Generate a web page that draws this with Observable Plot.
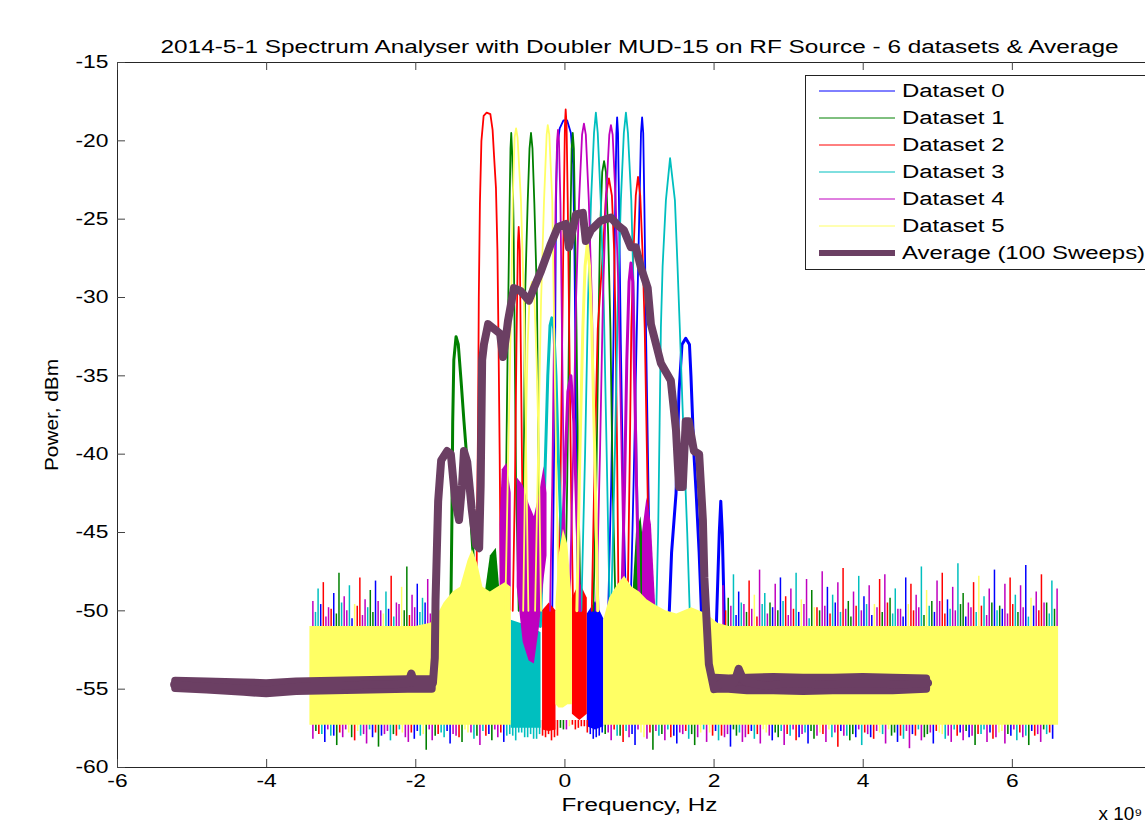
<!DOCTYPE html>
<html><head><meta charset="utf-8">
<script src="https://cdn.jsdelivr.net/npm/d3@7"></script>
<script src="https://cdn.jsdelivr.net/npm/@observablehq/plot@0.6"></script>
<style>
html,body{margin:0;padding:0;overflow:hidden;background:#fff;width:1145px;height:827px}
#wrap{position:relative;width:1145px;height:827px;overflow:hidden}
#chart svg{max-width:none !important;width:1200px !important;height:827px !important;display:block}
#legend{position:absolute;left:805px;top:75px;width:370px;height:193px;border:1px solid #222;background:#fff;font-family:"Liberation Sans",Arial,sans-serif;font-size:18px;color:#000}
#legend .row{position:absolute;left:0;height:20px;width:370px}
#legend svg{position:absolute;left:13px;top:0}
#legend span{position:absolute;left:96px;top:0;line-height:20px;white-space:nowrap;transform:scaleX(1.33);transform-origin:left center}
</style></head>
<body><div id="wrap"><div id="chart"></div><div id="legend"></div></div>
<script>
// ---------- data ----------
const titleText = "2014-5-1 Spectrum Analyser with Doubler MUD-15 on RF Source - 6 datasets & Average";
const xLabel = "Frequency, Hz";
const yLabel = "Power, dBm";
const xMultiplier = "x 10⁹";
const xTicks = [-6, -4, -2, 0, 2, 4, 6];
const yTicks = [-60, -55, -50, -45, -40, -35, -30, -25, -20, -15];
const datasetNames = ["Dataset 0", "Dataset 1", "Dataset 2", "Dataset 3", "Dataset 4", "Dataset 5"];
const averageName = "Average (100 Sweeps)";

// narrow carrier peaks of each dataset (frequency, dBm)
const peaks = [
 {id:"B1", set:0, f:[-0.17,-0.15,-0.13,-0.12,-0.105,-0.07,-0.02,0.03,0.08,0.11,0.125,0.14,0.155,0.17], p:[-50,-42,-32,-24,-20.5,-19.2,-18.7,-18.7,-19.5,-21.5,-26,-33,-42,-50]},
 {id:"B2", set:0, f:[0.58,0.62,0.65,0.675,0.69,0.70,0.712,0.725,0.75,0.78,0.82], p:[-50,-42,-33,-24,-19.5,-18.5,-19.5,-24,-33,-42,-50]},
 {id:"B3", set:0, f:[0.88,0.92,0.96,1.0,1.02,1.035,1.05,1.065,1.09,1.12,1.15], p:[-50,-42,-33,-24,-19.5,-18.5,-19.5,-24,-33,-42,-50]},
 {id:"B4", set:0, f:[1.40,1.43,1.49,1.53,1.57,1.62,1.67,1.69,1.73,1.76,1.8,1.83], p:[-50,-46.3,-42.5,-36,-33,-32.6,-33,-35,-40,-42.5,-46.3,-50]},
 {id:"B5", set:0, f:[2.03,2.07,2.09,2.11,2.14], p:[-51,-45,-43,-45,-51]},
 {id:"G1", set:1, f:[-1.53,-1.515,-1.505,-1.49,-1.46,-1.43,-1.39,-1.354,-1.32,-1.287,-1.233,-1.2], p:[-50,-44,-38,-34,-32.5,-33,-35.5,-37.9,-40,-42.1,-46.3,-50]},
 {id:"G2", set:1, f:[-0.83,-0.79,-0.765,-0.745,-0.73,-0.72,-0.705,-0.69,-0.675,-0.655,-0.62], p:[-50,-42,-32,-25,-20.5,-19.5,-21,-25,-32,-42,-50]},
 {id:"G3", set:1, f:[-0.58,-0.55,-0.535,-0.5,-0.475,-0.455,-0.435,-0.41,-0.375,-0.355,-0.33], p:[-50,-40,-30,-24,-20.5,-19.5,-20.5,-24,-30,-40,-50]},
 {id:"G4", set:1, f:[0.0,0.03,0.055,0.075,0.09,0.105,0.12,0.135,0.155,0.18,0.21], p:[-50,-42,-32,-25,-20.5,-19.5,-20.5,-25,-32,-42,-50]},
 {id:"G5", set:1, f:[0.38,0.42,0.45,0.47,0.5,0.525,0.55,0.58,0.61,0.64,0.68], p:[-50,-42,-32,-26,-22,-21.3,-22,-26,-32,-42,-50]},
 {id:"R1", set:2, f:[-1.19,-1.18,-1.165,-1.155,-1.14,-1.12,-1.09,-1.05,-1.0,-0.97,-0.95,-0.925,-0.905,-0.89,-0.875,-0.865,-0.85], p:[-51,-45,-38,-30,-24,-20,-18.4,-18.2,-18.3,-19.3,-21,-23,-27,-33,-40,-46,-51]},
 {id:"R2", set:2, f:[-0.70,-0.67,-0.65,-0.63,-0.62,-0.605,-0.59,-0.57,-0.55], p:[-50,-42,-33,-26.5,-25.5,-27,-34,-43,-50]},
 {id:"R3", set:2, f:[-0.09,-0.06,-0.035,-0.015,0.0,0.01,0.022,0.038,0.06,0.085,0.11], p:[-50,-42,-32,-24,-19,-18,-19,-24,-33,-43,-50]},
 {id:"R4", set:2, f:[0.36,0.40,0.44,0.51,0.55,0.59,0.63,0.66,0.68,0.70,0.72], p:[-50,-40,-32,-27,-23.5,-22.4,-23.5,-27,-32,-40,-50]},
 {id:"R5", set:2, f:[0.84,0.87,0.89,0.92,0.95,0.98,1.01,1.04,1.07,1.1,1.13,1.15], p:[-50,-40,-32,-27,-23.5,-22.3,-23.5,-27,-32,-40,-48,-51]},
 {id:"C1", set:3, f:[0.22,0.27,0.31,0.35,0.39,0.415,0.44,0.48,0.52,0.56,0.6], p:[-50,-40,-30.2,-23.8,-19.5,-18.2,-19.5,-23.8,-30.2,-40,-50]},
 {id:"C2", set:3, f:[0.62,0.67,0.71,0.75,0.79,0.818,0.845,0.89,0.925,0.96,1.0], p:[-50,-40,-30.2,-23.8,-19.5,-18.2,-19.5,-23.8,-30.2,-40,-50]},
 {id:"C3", set:3, f:[1.22,1.25,1.27,1.287,1.31,1.354,1.41,1.475,1.51,1.54,1.57,1.6,1.64,1.68], p:[-51,-45,-38,-31.9,-28,-23.8,-21.1,-23.8,-28,-31.9,-36,-40,-45,-51]},
 {id:"C4", set:3, f:[-0.33,-0.29,-0.26,-0.23,-0.2,-0.175,-0.15,-0.12,-0.09,-0.05,-0.02], p:[-51,-45,-40,-35,-31.8,-31.3,-32,-35,-40,-45,-51]},
 {id:"M1", set:4, f:[-0.2,-0.17,-0.145,-0.125,-0.105,-0.093,-0.08,-0.06,-0.04,-0.015,0.01], p:[-50,-42,-32,-24,-20,-19.3,-20,-24,-32,-42,-50]},
 {id:"M2", set:4, f:[0.06,0.11,0.15,0.19,0.23,0.255,0.28,0.32,0.36,0.4,0.45], p:[-50,-40,-30,-23.8,-19.6,-18.9,-19.6,-23.8,-30,-40,-50]},
 {id:"M3", set:4, f:[0.42,0.47,0.51,0.55,0.595,0.617,0.64,0.68,0.72,0.76,0.8], p:[-50,-40,-30,-23.8,-19.6,-19,-19.6,-23.8,-30,-40,-50]},
 {id:"M4", set:4, f:[0.76,0.8,0.83,0.86,0.885,0.91,0.93,0.96,1.0], p:[-50,-42,-34,-29,-27.8,-29,-34,-42,-50]},
 {id:"M5", set:4, f:[-0.05,0.0,0.04,0.08,0.12,0.16,0.2], p:[-48,-41,-36,-35,-38,-44,-50]},
 {id:"Y1", set:5, f:[-0.8,-0.76,-0.72,-0.7,-0.675,-0.655,-0.635,-0.59,-0.55,-0.52,-0.49], p:[-50,-40,-30.2,-23.8,-19.8,-19.2,-19.8,-23.8,-30.2,-40,-50]},
 {id:"Y2", set:5, f:[-0.4,-0.36,-0.32,-0.28,-0.245,-0.23,-0.21,-0.17,-0.15,-0.12,-0.09], p:[-50,-40,-30.2,-23.8,-19.6,-19,-19.6,-23.8,-30.2,-40,-48]},
 {id:"Y3", set:5, f:[0.16,0.2,0.24,0.27,0.3,0.33,0.36,0.4,0.44], p:[-50,-40,-32,-28,-26.6,-28,-32,-40,-50]},
 {id:"Y4", set:5, f:[-0.56,-0.53,-0.5,-0.47,-0.44,-0.41,-0.38,-0.35,-0.32], p:[-50,-40,-33,-29.5,-29,-30,-34,-40,-50]}
];

// dense noise regions of datasets 0-4 that show through (frequency, low, high)
const floors = [
 {id:"blueBlock", set:0, f:[0.30,0.41,0.52], lo:[-57.4,-57.6,-57.4], hi:[-50.2,-49.4,-50.5]},
 {id:"greenHump1", set:1, f:[-1.1,-1.0,-0.92,-0.85], lo:[-51.5,-51.5,-51.5,-51.5], hi:[-50,-46.5,-46,-50]},
 {id:"greenHump2", set:1, f:[0.9,0.96,1.02,1.08], lo:[-51.5,-51.5,-51.5,-51.5], hi:[-50,-45,-44,-47]},
 {id:"redBlock1", set:2, f:[-0.30,-0.21,-0.12], lo:[-57.6,-57.7,-57.6], hi:[-50,-49.5,-50]},
 {id:"redBlock2", set:2, f:[0.10,0.20,0.30], lo:[-56.6,-57.0,-56.6], hi:[-49.2,-48.2,-49.2]},
 {id:"cyanBlock", set:3, f:[-0.72,-0.6,-0.45,-0.32], lo:[-57.5,-57.5,-57.5,-57.5], hi:[-50.6,-50.8,-51,-51.4]},
 {id:"magentaLeft", set:4, f:[-0.87,-0.84,-0.78,-0.72], lo:[-50,-50,-50,-50], hi:[-44.5,-41,-40.6,-42.5]},
 {id:"magentaV", set:4, f:[-0.64,-0.56,-0.48,-0.41,-0.34,-0.28,-0.24], lo:[-48.5,-52,-53.2,-53.4,-51,-48,-46.5], hi:[-41.5,-42,-43.2,-44,-42.5,-40.8,-42.5]},
 {id:"magentaHump", set:4, f:[1.04,1.1,1.16,1.22], lo:[-52.3,-52.3,-52.3,-52.3], hi:[-45,-42.8,-44.5,-50]}
];

// dataset 5 dense noise band
const yellowBand = [
 {seg:"A", f:[-3.42,-2.6,-2.0,-1.8,-1.7,-1.62,-1.5,-1.4,-1.3,-1.24,-1.17,-1.1,-1.0,-0.9,-0.8,-0.72],
  lo:[-57.3,-57.3,-57.3,-57.3,-57.3,-57.3,-57.3,-57.3,-57.3,-57.3,-57.3,-57.3,-57.3,-57.3,-57.3,-57.3],
  hi:[-51.0,-51.0,-51.0,-50.8,-50.2,-49.5,-48.8,-48.5,-46.8,-46.1,-47.0,-48.5,-48.8,-48.5,-48.2,-48.5]},
 {seg:"B", f:[-0.12,-0.08,-0.02,0.04,0.1], lo:[-56.0,-56.2,-56.2,-56.0,-56.0], hi:[-49.5,-46.5,-44.8,-45.8,-49.5]},
 {seg:"C", f:[0.52,0.6,0.7,0.8,0.9,1.0,1.1,1.2,1.35,1.5,1.7,1.9,2.05,2.2,6.62],
  lo:[-57.3,-57.3,-57.3,-57.3,-57.3,-57.3,-57.3,-57.3,-57.3,-57.3,-57.3,-57.3,-57.3,-57.3,-57.3],
  hi:[-50.6,-49.2,-48.4,-47.8,-48.5,-48.8,-49.3,-49.6,-50.0,-50.2,-49.8,-50.2,-50.8,-51.0,-51.0]}
];

// noise spikes above the band (frequency, dataset, dBm)
const topF = [-3.38,-3.31,-3.24,-3.17,-3.10,-3.03,-2.96,-2.89,-2.82,-2.75,-2.68,-2.61,-2.54,-2.47,-2.40,-2.33,-2.26,-2.19,-2.12,-2.05,-1.98,-1.91,-1.84,-1.77,
 2.12,2.19,2.26,2.33,2.40,2.47,2.54,2.61,2.68,2.75,2.82,2.89,2.96,3.03,3.10,3.17,3.24,3.31,3.38,3.45,3.52,3.59,3.66,3.73,3.80,3.87,3.94,4.01,4.08,4.15,
 4.22,4.29,4.36,4.43,4.50,4.57,4.64,4.71,4.78,4.85,4.92,4.99,5.06,5.13,5.20,5.27,5.34,5.41,5.48,5.55,5.62,5.69,5.76,5.83,5.90,5.97,6.04,6.11,6.18,6.25,
 6.32,6.39,6.46,6.53,6.60];
const topD = [4,3,2,4,0,1,4,3,5,2,4,1,0,4,3,2,4,5,1,4,0,3,4,2,
 4,1,3,0,4,2,5,4,3,1, 4,0,2,4,3,5,4,1,2,4, 0,3,4,2,1,4,3,0,4,5, 2,4,1,3,4,0,2,4,3,5, 1,4,2,0,4,3,1,4,2,5, 3,4,0,1,4,2,3,4,0,5, 4,2,1,3,4];
const topV = [-49.4,-48.6,-48.2,-49.8,-48.9,-47.6,-49.1,-48.4,-49.6,-47.9,-49.3,-48.7,-48.1,-50.0,-48.8,-47.8,-49.5,-48.5,-47.2,-49.0,-48.3,-49.2,-48.0,-48.9,
 -48.4,-49.2,-47.7,-48.8,-49.6,-48.1,-49.0,-47.4,-48.9,-49.5,
 -48.3,-47.9,-49.1,-48.6,-47.6,-49.3,-48.0,-48.7,-49.8,-47.5,
 -48.5,-49.0,-48.2,-47.3,-49.4,-48.8,-47.8,-49.1,-48.4,-49.6,
 -48.0,-47.7,-49.2,-48.6,-49.9,-47.9,-48.3,-49.0,-47.2,-48.7,
 -49.4,-48.1,-47.6,-49.3,-48.5,-47.0,-48.9,-49.5,-48.2,-47.8,
 -49.1,-48.6,-47.4,-49.7,-48.3,-47.9,-49.0,-48.4,-47.1,-49.2,
 -48.8,-47.7,-49.5,-48.1,-48.6];
// shorter spikes in between
const topF2 = [-3.345,-3.275,-3.205,-3.135,-3.065,-2.995,-2.925,-2.855,-2.785,-2.715,-2.645,-2.575,-2.505,-2.435,-2.365,-2.295,-2.225,-2.155,-2.085,-2.015,-1.945,-1.875,-1.805,
 2.155,2.225,2.295,2.365,2.435,2.505,2.575,2.645,2.715,2.785, 2.855,2.925,2.995,3.065,3.135,3.205,3.275,3.345,3.415,3.485,
 3.555,3.625,3.695,3.765,3.835,3.905,3.975,4.045,4.115,4.185, 4.255,4.325,4.395,4.465,4.535,4.605,4.675,4.745,4.815,4.885,
 4.955,5.025,5.095,5.165,5.235,5.305,5.375,5.445,5.515,5.585, 5.655,5.725,5.795,5.865,5.935,6.005,6.075,6.145,6.215,6.285,
 6.355,6.425,6.495,6.565];
const topD2 = [3,0,4,2,1,3,4,0,2,4,3,1,4,5,0,3,4,1,2,4,3,0,4,
 2,4,0,3,1,4,2,3,4,0, 1,3,4,2,0,4,3,5,1,4, 2,0,3,4,1,2,4,3,0,4, 1,2,3,4,0,5,2,4,1,3, 0,4,2,3,4,1,0,4,3,2, 4,1,3,0,4,2,1,4,3,0, 2,4,3,1];
const topV2 = [-50.1,-49.6,-50.4,-49.9,-50.2,-49.5,-50.0,-50.5,-49.7,-50.3,-49.8,-50.1,-49.4,-50.2,-49.9,-50.4,-49.6,-50.0,-50.3,-49.8,-50.1,-49.5,-50.2,
 -50.0,-49.7,-50.3,-49.5,-50.1,-49.9,-50.4,-49.6,-50.2,-49.8, -50.0,-49.4,-50.3,-49.9,-50.1,-49.6,-50.5,-49.8,-50.0,-49.7,
 -50.2,-49.5,-50.1,-49.9,-50.4,-49.7,-50.0,-49.6,-50.3,-49.8, -50.1,-49.5,-50.2,-49.9,-50.4,-49.6,-50.0,-49.8,-50.3,-49.7,
 -50.1,-49.4,-50.2,-49.9,-50.0,-49.6,-50.4,-49.8,-50.1,-49.7, -50.3,-49.5,-50.0,-49.9,-50.2,-49.6,-50.1,-49.8,-50.4,-49.7,
 -50.0,-49.5,-50.2,-49.9];

// noise spikes below the band
const botF = [-3.38,-3.30,-3.22,-3.14,-3.06,-2.98,-2.90,-2.82,-2.74,-2.66,
 -2.58,-2.50,-2.42,-2.34,-2.26,-2.18,-2.10,-2.02,-1.94,-1.86,
 -1.78,-1.70,-1.62,-1.54,-1.46,-1.38,-1.30,-1.22,-1.14,-1.06,
 -0.98,-0.90,-0.82,-0.74,-0.66,-0.58,-0.50,-0.42,-0.34,-0.26,
 -0.18,-0.10,-0.02,0.06,0.14,0.22,0.30,0.38,0.46,0.54,
 0.62,0.70,0.78,0.86,0.94,1.02,1.10,1.18,1.26,1.34,
 1.42,1.50,1.58,1.66,1.74,1.82,1.90,1.98,2.06,2.14,
 2.22,2.30,2.38,2.46,2.54,2.62,2.70,2.78,2.86,2.94,
 3.02,3.10,3.18,3.26,3.34,3.42,3.50,3.58,3.66,3.74,
 3.82,3.90,3.98,4.06,4.14,4.22,4.30,4.38,4.46,4.54,
 4.62,4.70,4.78,4.86,4.94,5.02,5.10,5.18,5.26,5.34,
 5.42,5.50,5.58,5.66,5.74,5.82,5.90,5.98,6.06,6.14,
 6.22,6.30,6.38,6.46,6.54];
const botD = [4,2,0,3,1,4,5,2,3,4, 0,1,4,3,2,5,4,0,3,1, 4,2,3,0,4,1,5,3,4,2, 1,4,0, 3,3,3,3,3,3, 2,2,2, 1,5, 2,2,2, 0,0,
 1,4,3,2,4,0,5,4,1,3, 4,2,0,4,3,1,5,4,2,3, 4,0,1,4,2,3,4,5,0,1, 4,3,2,4,0,1,5,4,3,2, 4,1,0,3,4,2,5,4,1,0, 3,4,2,4,1,0,5,3,4,2, 4,0,1,3,4,2,5,4,0,3, 4,1,2,4,3,0];
const botV = [-58.2,-57.9,-58.4,-58.0,-58.6,-58.1,-57.8,-58.3,-58.0,-58.5,
 -58.1,-58.7,-57.9,-58.3,-58.0,-57.8,-58.4,-58.2,-58.0,-58.9,
 -58.3,-57.9,-58.1,-58.5,-58.0,-58.4,-57.8,-58.2,-58.6,-58.0,
 -58.3,-58.1,-58.4, -57.9,-58.3,-57.8,-58.1,-58.2,-57.9, -58.1,-58.3,-58.0, -57.6,-57.4, -57.6,-57.4,-57.8, -58.2,-58.0,
 -57.9,-58.3,-58.0,-58.4,-58.1,-58.6,-57.8,-58.2,-58.9,-58.0,
 -58.3,-58.1,-58.5,-57.9,-58.2,-58.6,-57.8,-58.4,-58.0,-58.3,
 -58.1,-58.7,-58.0,-58.4,-57.9,-58.2,-58.5,-57.8,-58.3,-58.1,
 -58.6,-58.0,-58.3,-57.9,-58.5,-58.2,-57.8,-58.4,-58.1,-58.7,
 -58.0,-58.3,-58.1,-58.6,-57.9,-58.2,-57.8,-58.5,-58.0,-58.4,
 -58.2,-58.8,-58.0,-58.3,-57.9,-58.5,-57.8,-58.2,-58.4,-58.0,
 -58.3,-58.1,-58.6,-57.9,-58.4,-58.2,-57.8,-58.5,-58.0,-58.3,
 -58.1,-58.6,-58.0,-58.4,-57.9,-58.2];
const botF2 = [-3.34,-3.26,-3.18,-3.10,-3.02,-2.94,-2.86,-2.78,-2.70,-2.62, -2.54,-2.46,-2.38,-2.30,-2.22,-2.14,-2.06,-1.98,-1.90,-1.82,
 -1.74,-1.66,-1.58,-1.50,-1.42,-1.34,-1.26,-1.18,-1.10,-1.02, -0.94,-0.86,-0.78,-0.70,-0.62,-0.54,-0.46,-0.38,-0.30,-0.22,
 -0.14,-0.06,0.02,0.10,0.18,0.26,0.34,0.42,0.50,0.58, 0.66,0.74,0.82,0.90,0.98,1.06,1.14,1.22,1.30,1.38,
 1.46,1.54,1.62,1.70,1.78,1.86,1.94,2.02,2.10,2.18, 2.26,2.34,2.42,2.50,2.58,2.66,2.74,2.82,2.90,2.98,
 3.06,3.14,3.22,3.30,3.38,3.46,3.54,3.62,3.70,3.78, 3.86,3.94,4.02,4.10,4.18,4.26,4.34,4.42,4.50,4.58,
 4.66,4.74,4.82,4.90,4.98,5.06,5.14,5.22,5.30,5.38, 5.46,5.54,5.62,5.70,5.78,5.86,5.94,6.02,6.10,6.18,
 6.26,6.34,6.42,6.50];
const botD2 = [1,3,4,0,2,4,1,5,4,3, 2,0,4,1,3,4,2,0,5,4, 1,3,0,4,2,5,4,1,3,0, 4,2,3, 3,3,3,3,3, 2,2,2, 1,4, 2,2,2, 0,0,0,
 4,2,1,3,0,4,5,2,4,1, 3,0,4,2,1,4,3,5,0,2, 4,1,3,4,0,2,5,4,1,3, 2,4,0,3,1,4,2,5,4,0, 3,1,4,2,0,4,3,5,1,2, 4,0,3,1,4,2,5,4,3,0, 1,4,2,3,0,4,5,1,4,2, 3,0,4,1,2];
const botV2 = [-57.7,-57.9,-57.6,-58.0,-57.8,-57.6,-58.1,-57.7,-57.9,-57.6, -57.8,-58.0,-57.7,-57.9,-57.6,-58.1,-57.8,-57.7,-57.9,-57.6,
 -58.0,-57.8,-57.7,-57.9,-58.1,-57.6,-57.8,-58.0,-57.7,-57.9, -57.6,-57.8,-58.0,
 -58.0,-57.8,-58.1,-57.9,-58.2, -58.0,-57.9,-58.1, -57.5,-57.6, -57.3,-57.5,-57.4, -57.9,-58.1,-57.8,
 -57.8,-57.6,-58.0,-57.7,-57.9,-57.6,-58.1,-57.8,-57.7,-57.9, -57.6,-58.0,-57.8,-57.7,-57.9,-58.1,-57.6,-57.8,-57.7,-58.0,
 -57.9,-57.6,-57.8,-58.1,-57.7,-57.9,-57.6,-58.0,-57.8,-57.7, -57.9,-57.6,-58.1,-57.8,-57.7,-58.0,-57.9,-57.6,-57.8,-57.7,
 -58.0,-57.9,-57.6,-57.8,-58.1,-57.7,-57.9,-57.6,-57.8,-58.0, -57.7,-57.9,-57.6,-58.1,-57.8,-57.7,-57.9,-58.0,-57.6,-57.8,
 -57.7,-58.0,-57.9,-57.6,-57.8,-58.1,-57.7,-57.9,-57.6,-57.8, -58.0,-57.7,-57.9,-57.6,-57.8];

// average of 100 sweeps
const avgF = [-5.24,-5.0,-4.6,-4.2,-4.0,-3.7,-3.4,-3.0,-2.6,-2.3,
 -2.1,-2.06,-2.02,-1.9,-1.77,-1.745,-1.735,-1.70,-1.66,-1.58,
 -1.53,-1.47,-1.42,-1.38,-1.354,-1.31,-1.25,-1.19,-1.15,-1.13,
 -1.11,-1.086,-1.03,-0.95,-0.87,-0.83,-0.79,-0.764,-0.684,-0.59,
 -0.483,-0.416,-0.32,-0.19,-0.094,0.013,0.054,0.147,0.24,0.28,
 0.35,0.48,0.617,0.71,0.79,0.885,0.95,1.02,1.11,1.153,
 1.287,1.42,1.49,1.53,1.58,1.62,1.66,1.73,1.8,1.85,
 1.87,1.93,2.0,2.1,2.27,2.33,2.4,2.7,3.0,3.5,
 4.0,4.5,4.87];
const avgP = [-54.7,-54.8,-54.9,-55.0,-55.1,-54.9,-54.8,-54.8,-54.7,-54.7,
 -54.6,-54.0,-54.6,-54.6,-54.6,-53,-49.3,-43,-40.4,-39.8,
 -40,-43,-44.2,-42,-39.8,-40.5,-43.5,-45.8,-46,-42,
 -34,-33,-31.7,-32,-32.3,-33.8,-32.5,-31.5,-29.4,-29.6,
 -30.2,-29.4,-28.3,-26.6,-25.5,-25.3,-26.8,-24.7,-24.6,-26.4,
 -25.7,-25.1,-24.9,-25.4,-25.7,-26.8,-26.8,-28.1,-29.4,-31.7,
 -34.2,-35.3,-38.5,-42.1,-42.1,-37.9,-37.9,-39.8,-40,-44.2,
 -47.9,-53.4,-55.0,-54.6,-54.6,-53.7,-54.5,-54.8,-54.6,-54.7,
 -54.6,-54.7,-54.6];
// spread of the average's flat noise floor
const avgSpread = [
 {seg:"L", f:[-5.22,-4.8,-4.3,-4.0,-3.6,-3.1,-2.6,-2.1,-1.78], lo:[-54.95,-55.05,-55.2,-55.3,-55.15,-55.1,-55.05,-55.0,-55.0], hi:[-54.5,-54.55,-54.6,-54.65,-54.55,-54.5,-54.45,-54.4,-54.4]},
 {seg:"R", f:[2.02,2.2,2.45,2.8,3.2,3.6,4.0,4.4,4.85], lo:[-55.0,-55.0,-55.1,-55.1,-55.15,-55.1,-55.1,-55.1,-55.0], hi:[-54.3,-54.35,-54.3,-54.25,-54.3,-54.3,-54.25,-54.3,-54.35]}
];

// ---------- styles ----------
const colours = ["#0000ff", "#008000", "#ff0000", "#00bfbf", "#bf00bf", "#ffff64"];
const avgColour = "#6b3f63";
const thickPeaks = new Set(["B4", "B5", "G1", "C4", "M4", "M5", "Y3"]);

// ---------- build ----------
const W = 1200, H = 827, mL = 117, mR = 39, mT = 62, mB = 60;
const innerW = W - mL - mR, innerH = H - mT - mB, tickLen = 8;

const seriesRows = s => s.f.map((f, i) => ({id: s.id ?? s.seg, f, p: s.p ? s.p[i] : undefined, lo: s.lo ? s.lo[i] : undefined, hi: s.hi ? s.hi[i] : undefined}));
const spikeRows = (F, D, V) => F.map((f, i) => ({f, set: D[i], v: V[i]}));
const topRows = spikeRows(topF, topD, topV).concat(spikeRows(topF2, topD2, topV2));
const botRows = spikeRows(botF, botD, botV).concat(spikeRows(botF2, botD2, botV2));
const avgRows = avgF.map((f, i) => ({f, p: avgP[i]}));

const spikes = d => [
  Plot.ruleX(topRows.filter(r => r.set === d), {x: "f", y1: -51.6, y2: "v", stroke: colours[d], strokeWidth: 1.5}),
  Plot.ruleX(botRows.filter(r => r.set === d), {x: "f", y1: -57.0, y2: "v", stroke: colours[d], strokeWidth: 1.6})
];

const marks = [];
for (let d = 0; d < 6; d++) {
  if (d === 5) {
    marks.push(...spikes(d));
    marks.push(Plot.areaY(yellowBand.flatMap(seriesRows), {x: "f", y1: "lo", y2: "hi", z: "id", fill: colours[d]}));
  } else {
    marks.push(Plot.areaY(floors.filter(s => s.set === d).flatMap(seriesRows), {x: "f", y1: "lo", y2: "hi", z: "id", fill: colours[d]}));
  }
  for (const pk of peaks.filter(s => s.set === d)) {
    marks.push(Plot.line(seriesRows(pk), {x: "f", y: "p", stroke: colours[d], strokeWidth: thickPeaks.has(pk.id) ? 3 : 1.8}));
  }
  if (d < 5) marks.push(...spikes(d));
}
marks.push(Plot.areaY(avgSpread.flatMap(seriesRows), {x: "f", y1: "lo", y2: "hi", z: "id", fill: avgColour, stroke: avgColour, strokeWidth: 8, strokeLinejoin: "round"}));
marks.push(Plot.line(avgRows, {x: "f", y: "p", stroke: avgColour, strokeWidth: 8, strokeLinejoin: "round", strokeLinecap: "round"}));

marks.push(
  Plot.frame({stroke: "#262626"}),
  Plot.tickX(xTicks, {x: d => d, insetTop: innerH - tickLen, stroke: "#444"}),
  Plot.tickX(xTicks, {x: d => d, insetBottom: innerH - tickLen, stroke: "#444"}),
  Plot.tickY(yTicks, {y: d => d, insetRight: innerW - tickLen, stroke: "#444"}),
  Plot.axisX(xTicks, {anchor: "bottom", tickSize: 0, tickPadding: 7, fontSize: 18, tickFormat: d => String(d), label: null}),
  Plot.axisY(yTicks, {anchor: "left", tickSize: 0, tickPadding: 9, fontSize: 18, tickFormat: d => String(d), label: null}),
  Plot.text([titleText], {text: d => d, frameAnchor: "top", dy: -22, fontSize: 18, fill: "#000", textAnchor: "middle"}),
  Plot.text([xLabel], {text: d => d, frameAnchor: "bottom", dy: 43, fontSize: 18, fill: "#000", textAnchor: "middle"}),
  Plot.text([yLabel], {text: d => d, frameAnchor: "left", dx: -65, rotate: -90, fontSize: 18, fill: "#000", textAnchor: "middle"}),
  Plot.text([xMultiplier], {text: d => d, frameAnchor: "bottom-left", dx: 981, dy: 52, textAnchor: "start", fontSize: 18, fill: "#000"})
);

const chart = Plot.plot({
  width: W, height: H,
  marginLeft: mL, marginRight: mR, marginTop: mT, marginBottom: mB,
  x: {domain: [-6, 8]},
  y: {domain: [-60, -15]},
  style: {fontFamily: "'Liberation Sans', Arial, sans-serif", fontSize: "18px", background: "white", color: "#000", maxWidth: "none"},
  marks
});
document.getElementById("chart").appendChild(chart);

// horizontal stretch of the lettering, as in the reference
d3.select(chart).selectAll("text").each(function () {
  const t = this.textContent;
  const L = this.getComputedTextLength();
  let target = L * 1.27;
  if (t === titleText) target = 958;
  else if (t === xLabel) target = 156;
  else if (t === yLabel) target = 112;
  else if (t === xMultiplier) target = L * 1.05;
  this.setAttribute("textLength", target.toFixed(1));
  this.setAttribute("lengthAdjust", "spacingAndGlyphs");
});

// legend
const legend = document.getElementById("legend");
const entries = datasetNames.map((n, i) => ({name: n, colour: colours[i], w: 1})).concat([{name: averageName, colour: avgColour, w: 6}]);
entries.forEach((e, i) => {
  const row = document.createElement("div");
  row.className = "row";
  row.style.top = (4.8 + 27 * i) + "px";
  row.innerHTML = `<svg width="76" height="20"><line x1="0" x2="76" y1="10" y2="10" stroke="${e.colour}" stroke-width="${e.w}"/></svg><span>${e.name}</span>`;
  legend.appendChild(row);
});
</script>
</body></html>
